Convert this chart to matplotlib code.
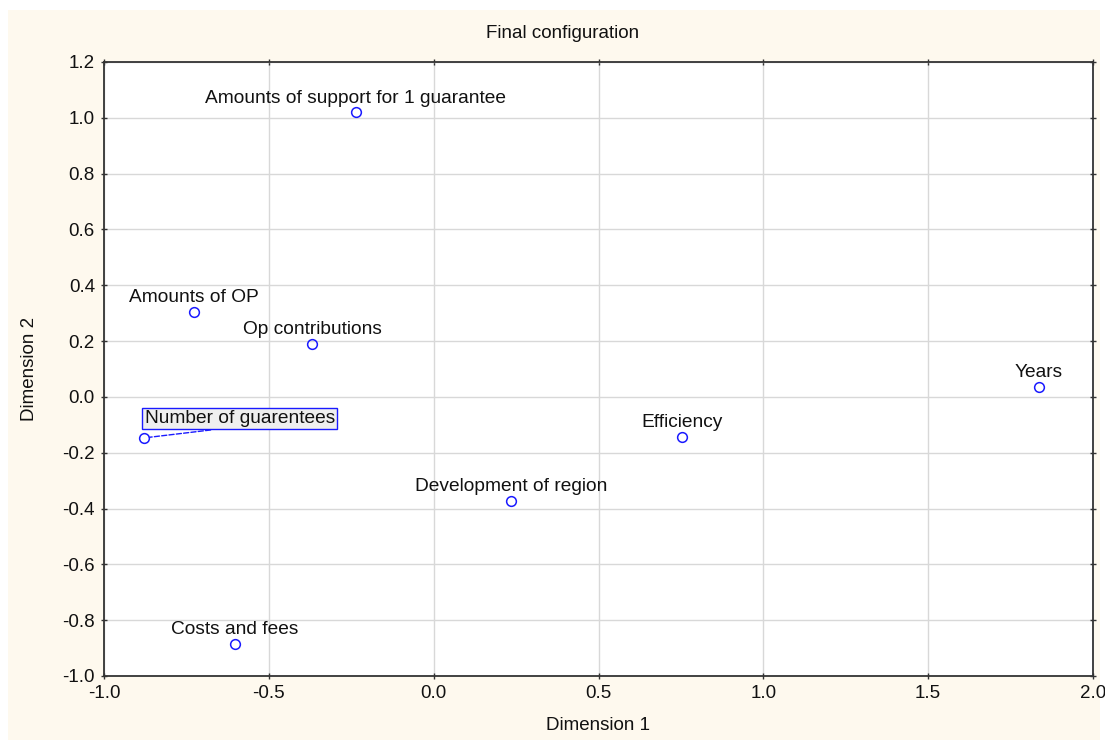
import matplotlib
matplotlib.use("Agg")
import matplotlib.pyplot as plt
from matplotlib.patches import Rectangle
from matplotlib.ticker import FuncFormatter

plt.rcParams['font.family'] = ['Liberation Sans', 'DejaVu Sans']

# MDS coordinates
labels = ["Amounts of support for 1 guarantee", "Amounts of OP", "Op contributions",
          "Number of guarentees", "Costs and fees", "Development of region",
          "Efficiency", "Years"]
dim1 = [-0.236, -0.727, -0.369, -0.879, -0.603, 0.234, 0.753, 1.836]
dim2 = [1.02, 0.305, 0.19, -0.147, -0.885, -0.373, -0.143, 0.036]

# moved label for "Number of guarentees"
moved_label_pos = (-0.588, -0.078)

fig = plt.figure(figsize=(11.05, 7.4), dpi=100, facecolor="white")
fig.patches.append(Rectangle((8 / 1105, 0.0), 1 - 13 / 1105, 1 - 10 / 740,
                             transform=fig.transFigure, facecolor="#fef9ee",
                             edgecolor="none", zorder=-10))

ax = fig.add_axes([104 / 1105, 1 - 676 / 740, (1093 - 104) / 1105, (676 - 62) / 740])
ax.set_facecolor("white")
ax.set_xlim(-1.0, 2.0)
ax.set_ylim(-1.0, 1.2)
ax.set_xticks([-1.0, -0.5, 0.0, 0.5, 1.0, 1.5, 2.0])
ax.set_yticks([-1.0, -0.8, -0.6, -0.4, -0.2, 0.0, 0.2, 0.4, 0.6, 0.8, 1.0, 1.2])
ax.xaxis.set_major_formatter(FuncFormatter(lambda v, p: f"{v:.1f}"))
ax.yaxis.set_major_formatter(FuncFormatter(lambda v, p: f"{v:.1f}"))
ax.grid(True, color="#d8d8d8", linewidth=1.0)
ax.set_axisbelow(True)
for s in ax.spines.values():
    s.set_color("#333333")
    s.set_linewidth(1.3)
ax.tick_params(direction="inout", length=5, width=1, color="#333333",
               labelsize=13.5, pad=4, top=True, right=True, labelcolor="#111111")

ax.plot(dim1, dim2, linestyle="none", marker="o", markersize=7,
        markerfacecolor="none", markeredgecolor="#1a1aff", markeredgewidth=1.1)

for lab, x, y in zip(labels, dim1, dim2):
    if lab == "Number of guarentees":
        ax.annotate(lab, xy=(x, y), xytext=moved_label_pos, fontsize=13.8,
                    ha="center", va="center", color="#111111",
                    bbox=dict(boxstyle="square,pad=0.12", facecolor="#efefef",
                              edgecolor="#1a1aff", linewidth=1),
                    arrowprops=dict(arrowstyle="-", linestyle="--", relpos=(0.47, 0.0),
                                    color="#1a1aff", linewidth=1, shrinkA=0, shrinkB=4))
    else:
        ax.annotate(lab, xy=(x, y), xytext=(0, 4), textcoords="offset points",
                    fontsize=13.8, ha="center", va="bottom", color="#111111")

fig.text(563 / 1105, 1 - 34 / 740, "Final configuration", ha="center", va="center",
         fontsize=13.5, color="#111111")
fig.text(598 / 1105, 1 - 725 / 740, "Dimension 1", ha="center", va="center",
         fontsize=13.5, color="#111111")
fig.text(30 / 1105, 1 - 369 / 740, "Dimension 2", ha="center", va="center",
         rotation=90, fontsize=13.5, color="#111111")

fig.savefig("out.png", dpi=100, facecolor=fig.get_facecolor())
